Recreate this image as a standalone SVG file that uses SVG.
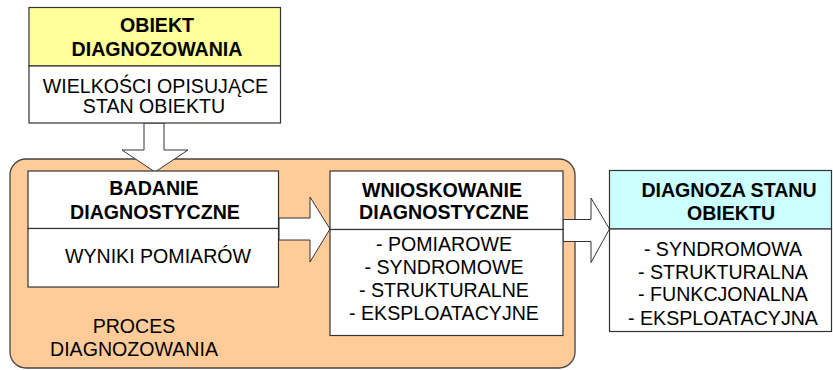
<svg xmlns="http://www.w3.org/2000/svg" width="833" height="370" viewBox="0 0 833 370">
<style>
.box{stroke:#333;stroke-width:1.2}
.arr{fill:#fff;stroke:#333;stroke-width:1}
text{font-family:"Liberation Sans",Arial,sans-serif;font-size:19.6px;fill:#000;text-anchor:middle}
.b{font-weight:bold}
</style>
<rect width="833" height="370" fill="#fff"/>
<g id="proces">
<rect x="10" y="159" width="565" height="209" rx="16" ry="16" fill="#FFCC99" stroke="#444" stroke-width="1.3"/>
<text x="134" y="333">PROCES</text>
<text x="134" y="356">DIAGNOZOWANIA</text>
</g>
<g id="connectors">
<polygon class="arr" points="144,123 164,123 164,150 188,150 155,172 122,150 144,150"/>
<polygon class="arr" points="279,218 310,218 310,197 330,229 310,262 310,240 279,240"/>
<polygon class="arr" points="563,219.5 591,219.5 591,198 609.5,229 591,262.5 591,241.5 563,241.5"/>
</g>
<g id="obiekt">
<rect class="box" x="29" y="7.5" width="251.5" height="58.5" fill="#FFFF99"/>
<rect class="box" x="29" y="66" width="251.5" height="57" fill="#fff"/>
<text class="b" x="157" y="31.7">OBIEKT</text>
<text class="b" x="157" y="56">DIAGNOZOWANIA</text>
<text x="155.5" y="92.7">WIELKOŚCI OPISUJĄCE</text>
<text x="154" y="112.7">STAN OBIEKTU</text>
</g>
<g id="badanie">
<rect class="box" x="28" y="171" width="250.5" height="57.5" fill="#fff"/>
<rect class="box" x="28" y="228.5" width="250.5" height="58.5" fill="#fff"/>
<text class="b" x="154" y="195">BADANIE</text>
<text class="b" x="155" y="218.5">DIAGNOSTYCZNE</text>
<text x="158" y="263">WYNIKI POMIARÓW</text>
</g>
<g id="wnioskowanie">
<rect class="box" x="330" y="171" width="233" height="58.5" fill="#fff"/>
<rect class="box" x="330" y="229.5" width="233" height="106" fill="#fff"/>
<text class="b" x="442" y="197">WNIOSKOWANIE</text>
<text class="b" x="444" y="219">DIAGNOSTYCZNE</text>
<text x="444" y="251">- POMIAROWE</text>
<text x="444" y="274">- SYNDROMOWE</text>
<text x="444" y="297">- STRUKTURALNE</text>
<text x="444" y="320">- EKSPLOATACYJNE</text>
</g>
<g id="diagnoza">
<rect class="box" x="609.5" y="170.5" width="222" height="58.5" fill="#CCFFFF"/>
<rect class="box" x="609.5" y="229" width="222" height="102.5" fill="#fff"/>
<text class="b" x="729" y="196.7">DIAGNOZA STANU</text>
<text class="b" x="731" y="220">OBIEKTU</text>
<text x="723" y="255.5">- SYNDROMOWA</text>
<text x="723" y="278.5">- STRUKTURALNA</text>
<text x="723" y="301">- FUNKCJONALNA</text>
<text x="723" y="324.5">- EKSPLOATACYJNA</text>
</g>
</svg>
